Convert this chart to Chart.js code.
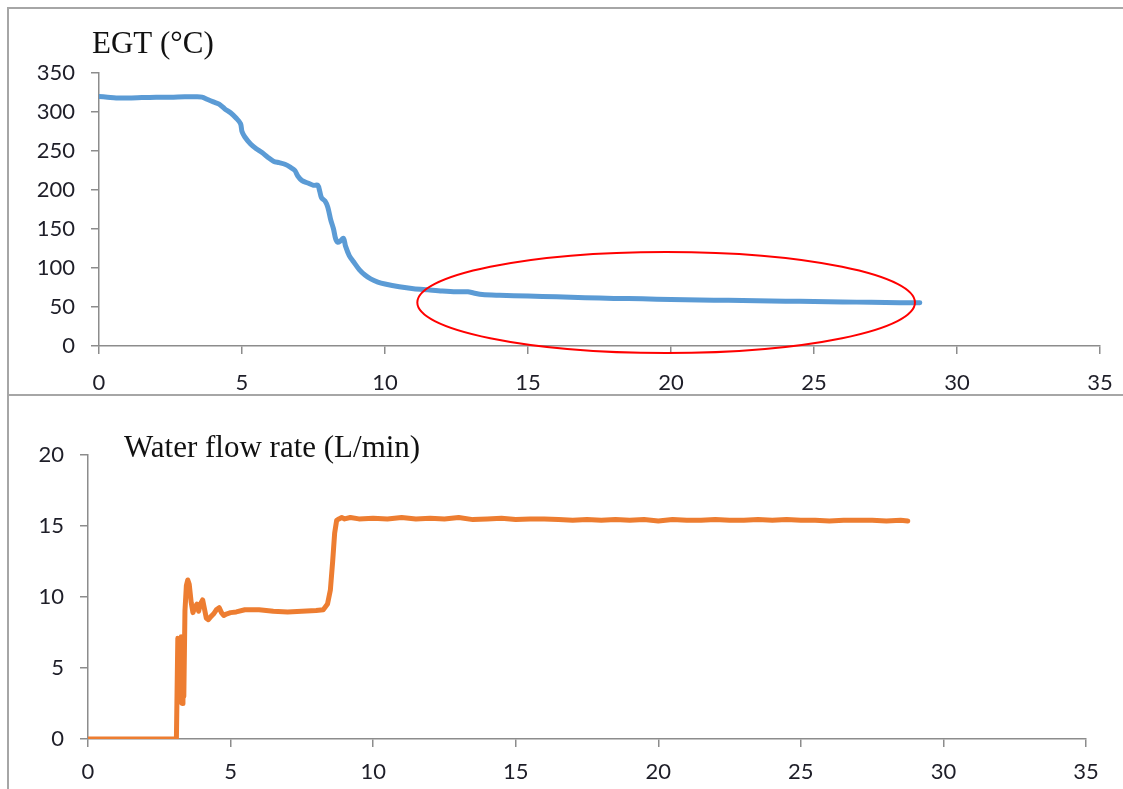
<!DOCTYPE html>
<html>
<head>
<meta charset="utf-8">
<script src="https://cdn.jsdelivr.net/npm/chart.js@4"></script>
<style>
  body { margin: 0; background: #fff; }
  .wrap { position: relative; width: 1123px; height: 789px; overflow: hidden; }
  .rule { position: absolute; background: #a6a6a6; }
  canvas { position: absolute; left: 0; }
</style>
</head>
<body>
<div class="wrap">
  <canvas id="egt" width="1123" height="430" style="top:0"></canvas>
  <canvas id="flow" width="1123" height="420" style="top:395px"></canvas>
  <div class="rule" style="left:7px; top:7px; width:1116px; height:2px"></div>
  <div class="rule" style="left:7px; top:7px; width:2px; height:782px"></div>
  <div class="rule" style="left:7px; top:394px; width:1116px; height:2px"></div>
</div>
<script>
// time in minutes
const egtTime = [0, 0.3, 0.6, 1.0, 1.5, 2.0, 2.5, 3.0, 3.4, 3.6, 3.8, 4.0, 4.2, 4.4, 4.6, 4.8, 4.95, 5.0, 5.1, 5.3,
  5.5, 5.7, 5.9, 6.1, 6.3, 6.5, 6.7, 6.85, 6.95, 7.1, 7.3, 7.5, 7.65, 7.72, 7.78, 7.9, 8.0, 8.1, 8.2, 8.27,
  8.35, 8.45, 8.55, 8.62, 8.75, 8.9, 9.1, 9.3, 9.5, 9.75, 10.0, 10.5, 11.0, 11.5, 12.0, 12.5, 12.9, 13.1, 13.4, 14,
  15, 16, 17, 18, 19, 20, 21, 22, 23, 24, 25, 26, 27, 28, 28.7];
const egtTemp = [320, 319, 318, 318, 318.5, 319, 319, 319.5, 319.5, 319, 316, 313, 310, 304, 299, 292, 285, 275, 268, 259,
  253, 248, 242, 237, 235, 233, 229, 225, 218, 212, 209, 206, 206, 198, 190, 186, 178, 162, 150, 138,
  133, 135, 138, 128, 116, 108, 98, 91, 86, 82, 79.5, 76, 73.5, 72, 70.5, 69.5, 69.5, 68, 66, 65,
  64, 63, 62, 61, 60.5, 59.5, 59, 58.5, 58, 57.5, 57, 56.5, 56, 55.5, 55.5];

const flowTime = [0, 0.5, 1, 1.5, 2, 2.5, 3.0, 3.1, 3.15, 3.18, 3.21, 3.24, 3.27, 3.3, 3.33, 3.36, 3.4, 3.45, 3.5, 3.55,
  3.62, 3.68, 3.75, 3.82, 3.88, 3.94, 4.02, 4.08, 4.15, 4.22, 4.3, 4.4, 4.5, 4.6, 4.68, 4.76, 4.85, 5.0, 5.2, 5.5,
  6.0, 6.5, 7.0, 7.5, 8.0, 8.25, 8.4, 8.5, 8.58, 8.65, 8.72, 8.8, 8.9, 9.0, 9.2, 9.5, 10, 10.5, 11, 11.5,
  12, 12.5, 13, 13.5, 14, 14.5, 15, 15.5, 16, 16.5, 17, 17.5, 18, 18.5, 19, 19.5, 20, 20.5, 21, 21.5,
  22, 22.5, 23, 23.5, 24, 24.5, 25, 25.5, 26, 26.5, 27, 27.5, 28, 28.5, 28.75];
const flowRate = [0, 0, 0, 0, 0, 0, 0, 0, 7.1, 3, 7.0, 2.6, 7.2, 2.5, 7.2, 3, 9, 10.8, 11.2, 10.9,
  9.6, 8.9, 9.3, 9.5, 9.0, 9.5, 9.8, 9.2, 8.5, 8.4, 8.6, 8.8, 9.1, 9.25, 8.9, 8.7, 8.8, 8.9, 8.95, 9.1,
  9.1, 9.0, 8.95, 9.0, 9.05, 9.1, 9.5, 10.5, 12.5, 14.5, 15.4, 15.5, 15.6, 15.5, 15.6, 15.5, 15.55, 15.5, 15.6, 15.5,
  15.55, 15.5, 15.6, 15.45, 15.5, 15.55, 15.45, 15.5, 15.5, 15.45, 15.4, 15.45, 15.4, 15.45, 15.4, 15.45, 15.35, 15.45, 15.4, 15.4,
  15.45, 15.4, 15.4, 15.45, 15.4, 15.45, 15.4, 15.4, 15.35, 15.4, 15.4, 15.4, 15.35, 15.4, 15.35];

const xTicks = [0, 5, 10, 15, 20, 25, 30, 35];
const egtTicks = [0, 50, 100, 150, 200, 250, 300, 350];
const flowTicks = [0, 5, 10, 15, 20];

// highlighted region on the EGT plot (data units)
const ringCenter = [19.83, 55.8];
const ringRadius = [8.7, 64.7];

const axisGrey = '#8c8c8c';
const tickFont = { family: 'Lato, "Open Sans", sans-serif', size: 22 };

function pairs(xs, ys) {
  return xs.map((x, i) => ({ x: x, y: ys[i] }));
}

function axis(min, max, ticks, fixed, pad) {
  return {
    type: 'linear',
    min: min,
    max: max,
    afterBuildTicks: s => { s.ticks = ticks.map(v => ({ value: v })); },
    afterFit: s => {
      if (s.isHorizontal()) {
        s.height = fixed;
        s.paddingLeft = 0;
        s.paddingRight = 0;
      } else {
        s.width = fixed;
      }
    },
    border: { color: axisGrey, width: 1.5 },
    grid: { drawOnChartArea: false, drawTicks: true, tickLength: 8, color: axisGrey, lineWidth: 1.5 },
    ticks: { color: '#1e1e28', font: tickFont, padding: pad, maxRotation: 0 }
  };
}

// draws the serif caption inside the plot panel
const captionPlugin = {
  id: 'caption',
  afterDraw(chart, args, opts) {
    const c = chart.ctx, a = chart.chartArea;
    c.save();
    c.font = '31px "Liberation Serif", "Times New Roman", serif';
    c.fillStyle = '#111';
    c.textBaseline = 'alphabetic';
    c.fillText(opts.text, a.left + opts.dx, a.top + opts.dy);
    c.restore();
  }
};

const ringPlugin = {
  id: 'ring',
  afterDatasetsDraw(chart) {
    const xs = chart.scales.x, ys = chart.scales.y;
    const cx = xs.getPixelForValue(ringCenter[0]);
    const cy = ys.getPixelForValue(ringCenter[1]);
    const rx = xs.getPixelForValue(ringCenter[0] + ringRadius[0]) - cx;
    const ry = cy - ys.getPixelForValue(ringCenter[1] + ringRadius[1]);
    const c = chart.ctx;
    c.save();
    c.strokeStyle = '#ff0000';
    c.lineWidth = 2;
    c.beginPath();
    c.ellipse(cx, cy, rx, ry, 0, 0, Math.PI * 2);
    c.stroke();
    c.restore();
  }
};

new Chart(document.getElementById('egt'), {
  type: 'line',
  data: {
    datasets: [{
      data: pairs(egtTime, egtTemp),
      borderColor: '#5b9bd5',
      borderWidth: 5,
      pointRadius: 0,
      tension: 0.3,
      borderCapStyle: 'round',
      borderJoinStyle: 'round'
    }]
  },
  options: {
    responsive: false,
    animation: false,
    layout: { padding: { left: 0, top: 73, right: 23, bottom: 24 } },
    plugins: {
      legend: { display: false },
      tooltip: { enabled: false },
      caption: { text: 'EGT (°C)', dx: -7, dy: -20 }
    },
    scales: {
      x: axis(0, 35, xTicks, 60, 16),
      y: axis(0, 350, egtTicks, 99, 16)
    }
  },
  plugins: [captionPlugin, ringPlugin]
});

new Chart(document.getElementById('flow'), {
  type: 'line',
  data: {
    datasets: [{
      data: pairs(flowTime, flowRate),
      borderColor: '#ed7d31',
      borderWidth: 5,
      pointRadius: 0,
      tension: 0,
      borderCapStyle: 'round',
      borderJoinStyle: 'round'
    }]
  },
  options: {
    responsive: false,
    animation: false,
    layout: { padding: { left: 0, top: 60, right: 37, bottom: 16 } },
    plugins: {
      legend: { display: false },
      tooltip: { enabled: false },
      caption: { text: 'Water flow rate (L/min)', dx: 36, dy: 2 }
    },
    scales: {
      x: axis(0, 35, xTicks, 60, 12),
      y: axis(0, 20, flowTicks, 88, 16)
    }
  },
  plugins: [captionPlugin]
});
</script>
</body>
</html>
